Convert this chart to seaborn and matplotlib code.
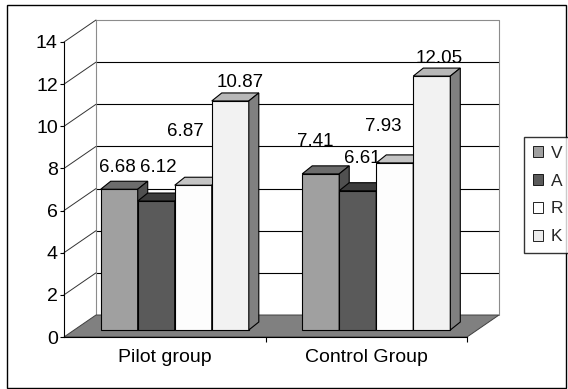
import matplotlib
matplotlib.use("Agg")
import numpy as np
import pandas as pd
import seaborn as sns
import matplotlib.pyplot as plt
from matplotlib.lines import Line2D
from matplotlib.patches import Patch, Polygon, Rectangle
from matplotlib.ticker import FixedLocator
from matplotlib.transforms import IdentityTransform, ScaledTranslation

groups = ["Pilot group", "Control Group"]
series = ["V", "A", "R", "K"]
pilot_values = [6.68, 6.12, 6.87, 10.87]
control_values = [7.41, 6.61, 7.93, 12.05]
y_ticks = [0, 2, 4, 6, 8, 10, 12, 14]

# shading of the three visible faces of each series' block
front_colors = ["#a0a0a0", "#5a5a5a", "#fdfdfd", "#f2f2f2"]
top_colors = ["#6c6c6c", "#3c3c3c", "#c4c4c4", "#b8b8b8"]
side_colors = ["#505050", "#2c2c2c", "#8a8a8a", "#808080"]
legend_colors = ["#a0a0a0", "#5a5a5a", "#ffffff", "#ececec"]

# value-label nudges (pixels) from the top-front centre of each block
label_nudge = [[(-1.5, 24), (2, 36), (-7.5, 56), (10, 21)],
               [(-5.5, 35), (5, 35), (-11.5, 39), (7, 20)]]

W, H, DPI = 568, 389, 100
WALL = np.array([32, 22])       # depth of the chart box
BAR_OFFSET = np.array([10, 7])  # blocks stand a little behind the axis plane
BAR_DEPTH = np.array([10, 8])
TEXT_SIZE = 14
VALUE_SIZE = 13.5

df = pd.DataFrame({
    "group": np.repeat(groups, len(series)),
    "series": series * len(groups),
    "value": pilot_values + control_values,
})

sns.set_theme(style="white")
plt.rcParams["font.family"] = ["Liberation Sans", "DejaVu Sans"]
plt.rcParams["font.size"] = TEXT_SIZE

fig = plt.figure(figsize=(W / DPI, H / DPI), dpi=DPI)


def frame(left, top, right, bottom):
    return [left / W, 1 - bottom / H, (right - left) / W, (bottom - top) / H]


ax = fig.add_axes(frame(64, 42, 467, 337))
sns.barplot(data=df, x="group", y="value", hue="series", order=groups,
            hue_order=series, palette=dict(zip(series, front_colors)),
            saturation=1, width=0.735, edgecolor="black", linewidth=0.8,
            legend=False, ax=ax)
bars = sorted(ax.patches, key=lambda p: p.get_x())

ax.set_xlim(-0.5, len(groups) - 0.5)
ax.set_ylim(y_ticks[0], y_ticks[-1])
ax.set_xlabel("")
ax.set_ylabel("")
ax.patch.set_visible(False)

to_px = ax.transData.transform
ident = IdentityTransform()


def shifted(offset):
    return ax.transData + ScaledTranslation(offset[0] / DPI, offset[1] / DPI,
                                            fig.dpi_scale_trans)


x_lo, x_hi = ax.get_xlim()
wall = shifted(WALL)

# back wall: grid and outline
ax.hlines(y_ticks[1:-1], x_lo, x_hi, transform=wall, color="black", lw=0.8,
          zorder=0.5, clip_on=False)
ax.plot([x_lo, x_lo, x_hi, x_hi], [0, y_ticks[-1], y_ticks[-1], 0],
        transform=wall, color="#8c8c8c", lw=0.8, zorder=0.6, clip_on=False)

# side wall grid running back from the value axis
for v in y_ticks[1:]:
    p0 = to_px((x_lo, v))
    p1 = p0 + WALL
    ax.add_line(Line2D([p0[0], p1[0]], [p0[1], p1[1]], transform=ident,
                       color="#333333", lw=0.7, zorder=0.6, clip_on=False))

# floor
fl = to_px((x_lo, 0))
fr = to_px((x_hi, 0))
ax.add_patch(Polygon([fl, fr, fr + WALL, fl + WALL], closed=True,
                     transform=ident, facecolor="#808080",
                     edgecolor="#404040", lw=0.7, zorder=1, clip_on=False))

# blocks: front face from seaborn, top and side faces added
bar_tr = shifted(BAR_OFFSET)
dx, dy = BAR_DEPTH
for k, p in enumerate(bars):
    g, s = divmod(k, len(series))
    z = 2 + 0.1 * k
    p.set_transform(bar_tr)
    p.set_zorder(z)
    p.set_clip_on(False)
    x0, w, h = p.get_x(), p.get_width(), p.get_height()
    lx, ty = to_px((x0, h)) + BAR_OFFSET
    rx, by = to_px((x0 + w, 0)) + BAR_OFFSET
    top = Polygon([(lx, ty), (rx, ty), (rx + dx, ty + dy), (lx + dx, ty + dy)],
                  closed=True, transform=ident, facecolor=top_colors[s],
                  edgecolor="black", lw=0.8, zorder=z + 0.01, clip_on=False)
    side = Polygon([(rx, by), (rx + dx, by + dy), (rx + dx, ty + dy), (rx, ty)],
                   closed=True, transform=ident, facecolor=side_colors[s],
                   edgecolor="black", lw=0.8, zorder=z + 0.01, clip_on=False)
    ax.add_patch(top)
    ax.add_patch(side)
    nx, ny = label_nudge[g][s]
    ax.annotate(f"{h:.2f}", xy=(x0 + w / 2, h),
                xytext=(BAR_OFFSET[0] + nx, BAR_OFFSET[1] + ny - 7),
                textcoords="offset pixels", ha="center", va="baseline",
                fontsize=VALUE_SIZE, color="black", zorder=10,
                annotation_clip=False)

# axes lines and ticks
for side_name in ("top", "right"):
    ax.spines[side_name].set_visible(False)
for side_name in ("left", "bottom"):
    ax.spines[side_name].set_color("black")
    ax.spines[side_name].set_linewidth(0.8)
    ax.spines[side_name].set_zorder(1.5)

ax.set_yticks(y_ticks)
ax.set_yticklabels([str(t) for t in y_ticks])
ax.tick_params(axis="y", left=True, length=3, width=0.8, color="black",
               pad=1.5, labelsize=TEXT_SIZE, labelcolor="black")
ax.set_xticks(range(len(groups)))
ax.set_xticklabels(groups)
ax.tick_params(axis="x", which="major", bottom=True, length=0, pad=9,
               labelsize=TEXT_SIZE, labelcolor="black")
ax.xaxis.set_minor_locator(FixedLocator([0.5, 1.5]))
ax.tick_params(axis="x", which="minor", bottom=True, length=3.5, width=0.8,
               color="black")

# legend
handles = [Patch(facecolor=c, edgecolor="black", linewidth=0.6)
           for c in legend_colors]
leg = fig.legend(handles, series, loc="upper left",
                 bbox_to_anchor=(524 / W, 1 - 137 / H), frameon=True,
                 fancybox=False, shadow=False, fontsize=12.5,
                 handlelength=0.6, handleheight=0.6, handletextpad=0.45,
                 labelspacing=0.74, borderpad=0.5, borderaxespad=0)
leg.get_frame().set_edgecolor("black")
leg.get_frame().set_linewidth(1.0)

# outer chart border
fig.add_artist(Rectangle((7 / W, 1 - 388 / H), 559 / W, 383 / H,
                         transform=fig.transFigure, fill=False,
                         edgecolor="black", lw=1.0))

fig.savefig("out.png", dpi=DPI)
